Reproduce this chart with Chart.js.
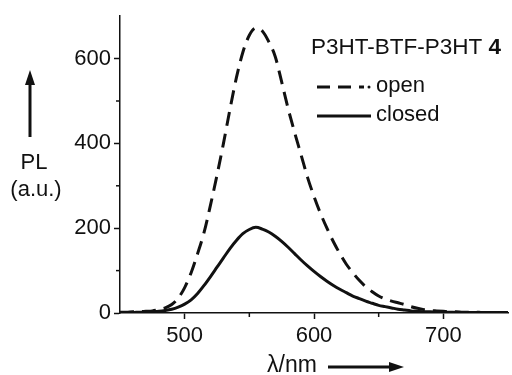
<!DOCTYPE html>
<html>
<head>
<meta charset="utf-8">
<script src="https://cdn.jsdelivr.net/npm/chart.js@4/dist/chart.umd.min.js"></script>
<style>
  body { margin: 0; background: #fff; }
  #wrap { width: 512px; height: 375px; }
</style>
</head>
<body>
<div id="wrap"><canvas id="pl-chart" width="512" height="375"></canvas></div>
<script>
// wavelength grid (nm)
var wavelengths = [450,455,460,465,470,475,480,485,490,495,500,505,510,515,520,525,530,535,540,545,
  550,555,560,565,570,575,580,585,590,595,600,605,610,615,620,625,630,635,640,645,
  650,655,660,665,670,675,680,685,690,695,700,705,710,715,720,725,730,735,740,745,750];

// PL intensity, open form (dashed)
var openPL = [2,2,3,3,4,5,8,12,20,35,60,95,140,190,255,325,400,480,555,615,
  655,672,665,640,605,545,482,426,373,320,275,235,200,168,140,115,95,77,62,50,
  40,33,28,24,20,15,11,8,6,5,4,3,3,2,2,2,1,1,1,1,1];

// PL intensity, closed form (solid)
var closedPL = [1,1,1,2,2,3,4,6,9,14,21,31,46,65,86,108,130,152,171,187,
  197,202,198,191,181,169,155,140,125,111,98,86,75,65,56,48,40,34,28,23,
  18,15,12,9,7,5,4,3,3,2,2,2,1,1,1,1,1,1,1,1,1];

var seriesNames = ["open", "closed"];
var xTickLabels = [500, 600, 700];
var yTickLabels = [0, 200, 400, 600];

var INK = "#111";
var FONT = "'Liberation Sans', Arial, sans-serif";

function toPoints(vals) {
  return wavelengths.map(function (w, i) { return { x: w, y: vals[i] }; });
}

// minor ticks, legend and axis titles drawn on top
var decorations = {
  id: "decorations",
  afterDraw: function (chart) {
    var ctx = chart.ctx, xs = chart.scales.x, ys = chart.scales.y;
    var area = chart.chartArea;
    ctx.save();
    ctx.strokeStyle = INK;
    ctx.lineWidth = 1.5;

    // minor ticks
    ys.ticks.forEach(function (t) {
      if (yTickLabels.indexOf(t.value) < 0 && t.value < ys.max) {
        var py = ys.getPixelForValue(t.value);
        ctx.beginPath(); ctx.moveTo(area.left - 4, py); ctx.lineTo(area.left, py); ctx.stroke();
      }
    });
    xs.ticks.forEach(function (t) {
      if (xTickLabels.indexOf(t.value) < 0 && t.value > xs.min && t.value < xs.max) {
        var px = xs.getPixelForValue(t.value);
        ctx.beginPath(); ctx.moveTo(px, area.bottom); ctx.lineTo(px, area.bottom + 4); ctx.stroke();
      }
    });

    // title
    ctx.fillStyle = INK;
    ctx.textBaseline = "alphabetic";
    ctx.textAlign = "left";
    ctx.font = "22.5px " + FONT;
    var t1 = "P3HT-BTF-P3HT ";
    ctx.fillText(t1, 311, 54);
    var w1 = ctx.measureText(t1).width;
    ctx.font = "bold 22.5px " + FONT;
    ctx.fillText("4", 311 + w1, 54);

    // legend
    ctx.lineWidth = 3;
    ctx.setLineDash([13, 8]);
    ctx.beginPath(); ctx.moveTo(317, 87); ctx.lineTo(364, 87); ctx.stroke();
    ctx.setLineDash([]);
    ctx.beginPath(); ctx.arc(369, 87, 1.5, 0, Math.PI * 2); ctx.fill();
    ctx.beginPath(); ctx.moveTo(317, 116); ctx.lineTo(371, 116); ctx.stroke();
    ctx.font = "22px " + FONT;
    ctx.textBaseline = "middle";
    ctx.fillText(seriesNames[0], 376, 86);
    ctx.fillText(seriesNames[1], 376, 115);

    // y title with arrow
    ctx.textAlign = "center";
    ctx.fillText("PL", 34, 163);
    ctx.fillText("(a.u.)", 36, 190);
    ctx.lineWidth = 3;
    ctx.beginPath(); ctx.moveTo(30, 137); ctx.lineTo(30, 82); ctx.stroke();
    ctx.beginPath(); ctx.moveTo(30, 70); ctx.lineTo(25, 85); ctx.lineTo(35, 85); ctx.closePath(); ctx.fill();

    // x title with arrow
    ctx.textAlign = "left";
    ctx.font = "23px " + FONT;
    ctx.fillText("\u03bb/nm", 267, 366);
    ctx.beginPath(); ctx.moveTo(328, 367); ctx.lineTo(392, 367); ctx.stroke();
    ctx.beginPath(); ctx.moveTo(404, 367); ctx.lineTo(389, 362); ctx.lineTo(389, 372); ctx.closePath(); ctx.fill();

    ctx.restore();
  }
};

new Chart(document.getElementById("pl-chart"), {
  type: "line",
  data: {
    datasets: [{
      label: seriesNames[0],
      data: toPoints(openPL),
      borderColor: INK,
      borderWidth: 3,
      borderDash: [14, 8],
      pointRadius: 0,
      cubicInterpolationMode: "monotone"
    }, {
      label: seriesNames[1],
      data: toPoints(closedPL),
      borderColor: INK,
      borderWidth: 3,
      pointRadius: 0,
      cubicInterpolationMode: "monotone"
    }]
  },
  options: {
    responsive: false,
    animation: false,
    layout: { padding: { top: 12, right: 0, left: 0, bottom: 0 } },
    plugins: { legend: { display: false }, tooltip: { enabled: false } },
    scales: {
      x: {
        type: "linear",
        min: 450,
        max: 750,
        afterFit: function (s) { s.height = 62; },
        border: { color: INK, width: 1.5 },
        grid: {
          drawOnChartArea: false,
          tickLength: 6,
          tickWidth: 1.5,
          tickColor: function (c) { return xTickLabels.indexOf(c.tick.value) >= 0 ? INK : "rgba(0,0,0,0)"; }
        },
        ticks: {
          stepSize: 50,
          autoSkip: false,
          maxRotation: 0,
          padding: 4,
          color: INK,
          font: { family: FONT, size: 22 },
          callback: function (v) { return xTickLabels.indexOf(v) >= 0 ? String(v) : ""; }
        }
      },
      y: {
        min: 0,
        max: 700,
        afterFit: function (s) { s.width = 120; },
        border: { color: INK, width: 1.5 },
        grid: {
          drawOnChartArea: false,
          tickLength: 6,
          tickWidth: 1.5,
          tickColor: function (c) { return yTickLabels.indexOf(c.tick.value) >= 0 ? INK : "rgba(0,0,0,0)"; }
        },
        ticks: {
          stepSize: 100,
          padding: 3,
          color: INK,
          font: { family: FONT, size: 22 },
          callback: function (v) { return yTickLabels.indexOf(v) >= 0 ? String(v) : ""; }
        }
      }
    }
  },
  plugins: [decorations]
});
</script>
</body>
</html>
